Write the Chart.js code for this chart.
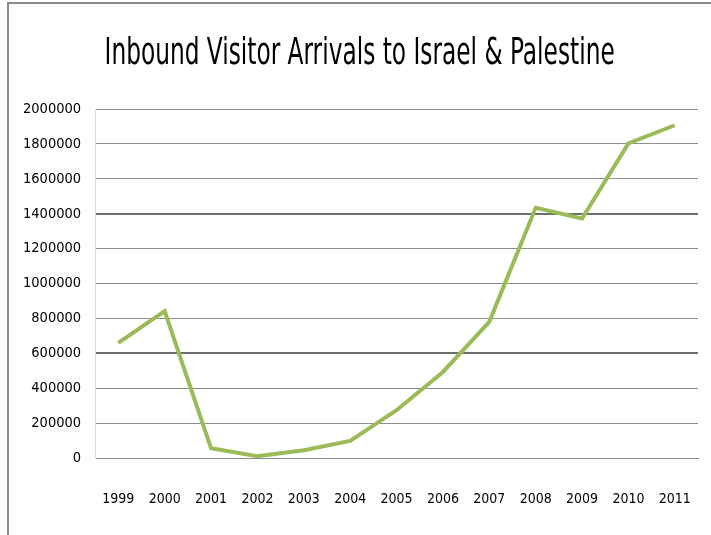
<!DOCTYPE html>
<html>
<head>
<meta charset="utf-8">
<script src="https://cdn.jsdelivr.net/npm/chart.js@4"></script>
<style>
  html, body { margin: 0; padding: 0; background: #fff; overflow: hidden; }
  #wrap {
    position: absolute; left: 7px; top: 2px; width: 704px; height: 533px;
    border-left: 2px solid #8c8c8c; border-top: 2px solid #8c8c8c;
  }
  canvas { display: block; }
  #title {
    position: absolute; left: 9px; top: 28px; width: 702px;
    display: flex; justify-content: center;
    font-family: "DejaVu Sans Condensed", "Liberation Sans", sans-serif;
    font-size: 38px; line-height: 46px; font-weight: normal; color: #000;
    white-space: nowrap;
  }
  #title span { display: inline-block; flex: none; transform-origin: center; }
</style>
</head>
<body>
<div id="wrap"><canvas id="arrivalsChart" width="702" height="531"></canvas></div>
<div id="title"><span>Inbound Visitor Arrivals to Israel &amp; Palestine</span></div>
<script>
// years on the x axis
const years = ['1999', '2000', '2001', '2002', '2003', '2004', '2005',
               '2006', '2007', '2008', '2009', '2010', '2011'];
// inbound visitor arrivals
const arrivals = [660000, 842000, 57000, 11000, 46000, 99000, 275000,
                  494000, 781000, 1434000, 1373000, 1803000, 1907000];
const yTicks = [0, 200000, 400000, 600000, 800000, 1000000, 1200000,
                1400000, 1600000, 1800000, 2000000];

const fontFam = '"DejaVu Sans Condensed", "Liberation Sans", sans-serif';

// squeeze the title so it is as narrow as in the original
const titleSpan = document.querySelector('#title span');
titleSpan.style.transform = 'scaleX(' + (510 / titleSpan.offsetWidth) + ')';

const ctx = document.getElementById('arrivalsChart').getContext('2d');
const arrivalsChart = new Chart(ctx, {
    type: 'line',
    data: {
        labels: years,
        datasets: [{
            label: 'Arrivals',
            data: arrivals,
            borderColor: '#9bbb59',
            borderWidth: 4,
            pointRadius: 0,
            tension: 0,
            fill: false
        }]
    },
    options: {
        responsive: false,
        animation: false,
        devicePixelRatio: 1,
        layout: { padding: { left: 0, right: 13, top: 105, bottom: 24 } },
        plugins: {
            legend: { display: false },
            tooltip: { enabled: false },
            title: { display: false }
        },
        scales: {
            x: {
                offset: true,
                // tick marks are not drawn (grid off), tickLength only spaces the labels
                grid: { display: false, drawTicks: true, tickLength: 30 },
                border: { display: true, color: '#8c8c8c', width: 1 },
                ticks: {
                    color: '#000', padding: 3,
                    font: { family: fontFam, size: 14 },
                    maxRotation: 0, autoSkip: false
                }
            },
            y: {
                min: 0, max: 2000000,
                afterBuildTicks: axis => { axis.ticks = yTicks.map(v => ({ value: v })); },
                grid: {
                    drawTicks: false,
                    color: c => (c.tick && (c.tick.value === 1400000 || c.tick.value === 600000)) ? '#6e6e6e' : '#8c8c8c',
                    lineWidth: c => (c.tick && (c.tick.value === 1400000 || c.tick.value === 600000)) ? 2 : 1
                },
                border: { display: true, color: '#d9d9d9', width: 1 },
                ticks: {
                    color: '#000', padding: 14,
                    font: { family: fontFam, size: 14.5 },
                    callback: v => String(v)
                }
            }
        }
    }
});
</script>
</body>
</html>
